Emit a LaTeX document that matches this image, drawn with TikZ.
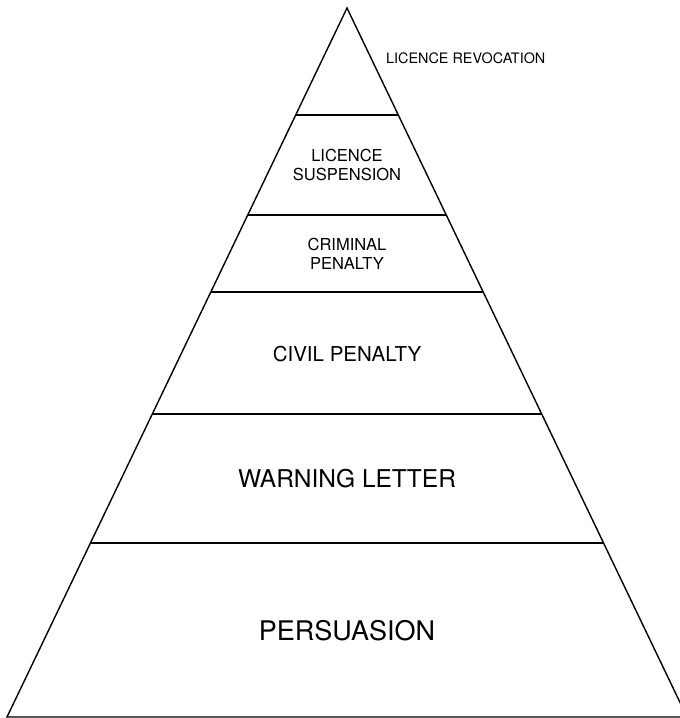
\documentclass[tikz,border=0pt]{standalone}
\usepackage{fontspec}
\setmainfont{TeX Gyre Heros}
\usetikzlibrary{calc}
\tikzset{
    edge/.style={line width=1.4pt, line join=miter},
    tier/.style={align=center, inner sep=0pt},
    tiersm/.style={tier, font=\fontsize{16.5}{19}\selectfont},
}
\begin{document}
\begin{tikzpicture}[x=1pt, y=-1pt]

    % Page frame
    \useasboundingbox (0,0) rectangle (680,718);
    \clip (0,0) rectangle (680,718);

    % Pyramid outline
    \coordinate (apex) at (347,8);
    \coordinate (bl) at (7,717);
    \coordinate (br) at (687,717);
    \draw[edge] (apex) -- (bl) -- (br) -- cycle;

    % Tier lines
    \foreach \y in {115,215,292,414,543}
        \draw[edge] ($(apex)!{(\y-8)/709}!(bl)$) -- ($(apex)!{(\y-8)/709}!(br)$);

    % Tier labels
    \node[tier, anchor=base west, font=\fontsize{14.4}{16}\selectfont]
        at (386,63) (revoke) {LICENCE REVOCATION};
    \node[tiersm] at (347,165) (suspend) {LICENCE\\SUSPENSION};
    \node[tiersm] at (347,253.5) (criminal) {CRIMINAL\\PENALTY};
    \node[tier, font=\fontsize{20.5}{24}\selectfont] at (347,354.5) (civil) {CIVIL PENALTY};
    \node[tier, font=\fontsize{24.5}{28}\selectfont] at (347,478.5) (warning) {WARNING LETTER};
    \node[tier, font=\fontsize{27}{30}\selectfont] at (347,631) (persuade) {PERSUASION};

\end{tikzpicture}
\end{document}
